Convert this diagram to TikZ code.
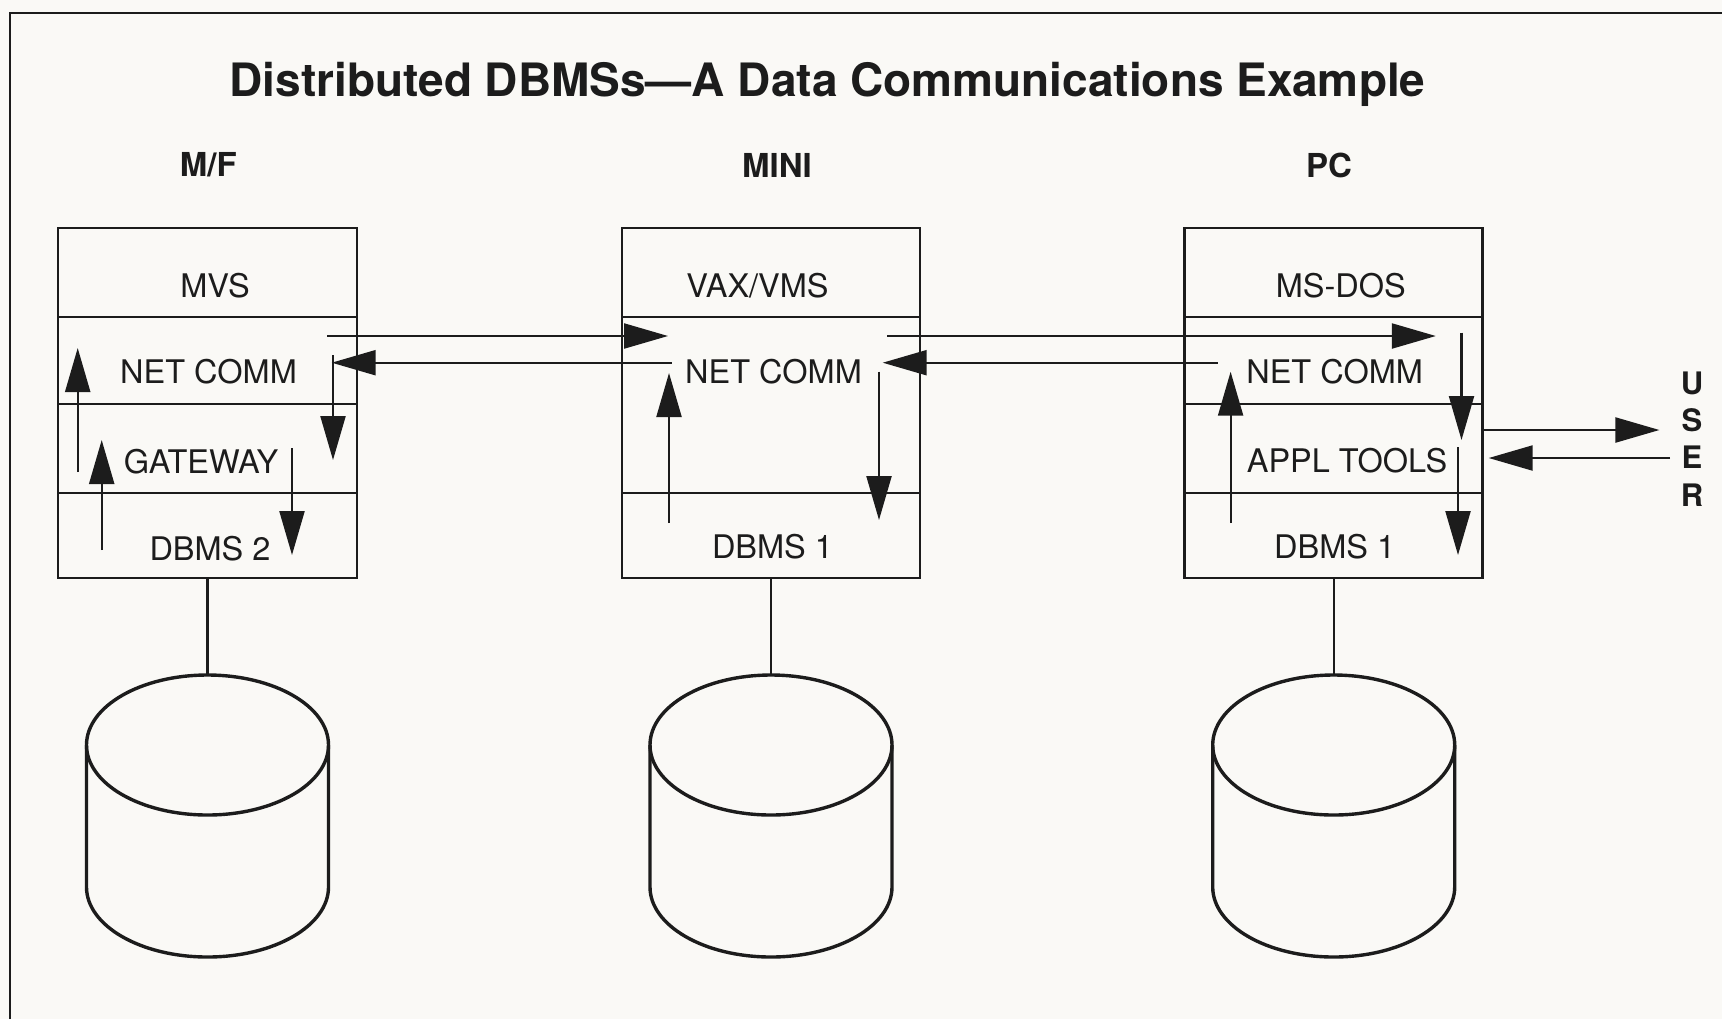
\documentclass[tikz,border=0pt]{standalone}
\usepackage{fontspec}
\setmainfont{TeX Gyre Heros}
\usetikzlibrary{arrows.meta}
\definecolor{paper}{RGB}{250,249,246}
\definecolor{ink}{RGB}{28,28,28}
\begin{document}
\begin{tikzpicture}[x=0.5pt,y=-0.5pt,
  cell/.style={draw=ink, line width=1.4pt, inner sep=0pt, outer sep=0pt, rectangle},
  lbl/.style={font=\fontsize{16.25pt}{19pt}\selectfont, text=ink, inner sep=0pt, anchor=base},
  hdr/.style={font=\bfseries\fontsize{16.5pt}{19pt}\selectfont, text=ink, inner sep=0pt, anchor=base},
  usr/.style={font=\bfseries\fontsize{15.5pt}{19pt}\selectfont, text=ink, inner sep=0pt, anchor=base},
  flow/.style={draw=ink, line width=1.1pt, -{Triangle[length=22pt,width=12.5pt]}},
  link/.style={draw=ink, line width=1.2pt},
  disk/.style={draw=ink, line width=1.7pt}]

\fill[paper] (0,0) rectangle (1722,1019);
\useasboundingbox (0,0) rectangle (1722,1019);
\draw[ink, line width=1.2pt] (10,1019) -- (10,13) -- (1722,13);

% title and headers
\node[hdr, font=\bfseries\fontsize{23pt}{27pt}\selectfont] (title) at (827.5,96) {Distributed DBMSs—A Data Communications Example};
\node[hdr] (hmf) at (208.4,176.7) {M/F};
\node[hdr] (hmini) at (777,177) {MINI};
\node[hdr] (hpc) at (1329,177) {PC};

% M/F stack
\node[cell, minimum width=149.5pt, minimum height=44.5pt] (mfos) at (207.5,272.5) {};
\node[cell, minimum width=149.5pt, minimum height=43.5pt] (mfnet) at (207.5,360.5) {};
\node[cell, minimum width=149.5pt, minimum height=44.5pt] (mfgw) at (207.5,448.5) {};
\node[cell, minimum width=149.5pt, minimum height=42.5pt] (mfdb) at (207.5,535.5) {};
\node[lbl] (tmfos) at (215,297) {MVS};
\node[lbl] (tmfnet) at (208.5,383) {NET COMM};
\node[lbl] (tmfgw) at (201,473) {GATEWAY};
\node[lbl] (tmfdb) at (210,560) {DBMS 2};

% MINI stack
\node[cell, minimum width=149pt, minimum height=44.5pt] (minios) at (771,272.5) {};
\node[cell, minimum width=149pt, minimum height=88pt] (mininet) at (771,405) {};
\node[cell, minimum width=149pt, minimum height=42.5pt] (minidb) at (771,535.5) {};
\node[lbl] (tminios) at (757.5,297) {VAX/VMS};
\node[lbl] (tmininet) at (773.5,383) {NET COMM};
\node[lbl] (tminidb) at (772.5,558) {DBMS 1};

% PC stack
\node[cell, minimum width=149pt, minimum height=44.5pt] (pcos) at (1333.7,272.5) {};
\node[cell, minimum width=149pt, minimum height=43.5pt] (pcnet) at (1333.7,360.5) {};
\node[cell, minimum width=149pt, minimum height=44.5pt] (pcapp) at (1333.7,448.5) {};
\node[cell, minimum width=149pt, minimum height=42.5pt] (pcdb) at (1333.7,535.5) {};
\node[lbl] (tpcos) at (1340.8,297) {MS-DOS};
\node[lbl] (tpcnet) at (1334.6,383) {NET COMM};
\node[lbl] (tpcapp) at (1347,472) {APPL TOOLS};
\node[lbl] (tpcdb) at (1334.6,558) {DBMS 1};

% USER
\node[usr] (u1) at (1692,394.5) {U};
\node[usr] (u2) at (1692,431.5) {S};
\node[usr] (u3) at (1692,468.5) {E};
\node[usr] (u4) at (1692,506.5) {R};

% arrow end points
\coordinate (mfup1s) at (77.7,472);   \coordinate (mfup1e) at (77.7,348);
\coordinate (mfup2s) at (101.7,550);  \coordinate (mfup2e) at (101.7,440);
\coordinate (mfouts) at (327,336);    \coordinate (miniine) at (668,336);
\coordinate (minibacks) at (671.7,362.7); \coordinate (mfbacke) at (331.7,362.7);
\coordinate (mfdn1s) at (333,355);    \coordinate (mfdn1e) at (333,460);
\coordinate (mfdn2s) at (292,448);    \coordinate (mfdn2e) at (292,555);

\coordinate (miniouts) at (887,336);  \coordinate (pcine) at (1435.8,336);
\coordinate (pcbacks) at (1217.5,362.7); \coordinate (minibacke) at (882.7,362.7);
\coordinate (minidns) at (879,371.7); \coordinate (minidne) at (879,520);
\coordinate (miniups) at (669,523);   \coordinate (miniupe) at (669,373);

\coordinate (pcdn1s) at (1461.5,332.7); \coordinate (pcdn1e) at (1461.5,440);
\coordinate (pcdn2s) at (1458,447);   \coordinate (pcdn2e) at (1458,555);
\coordinate (pcups) at (1230.6,523);  \coordinate (pcupe) at (1230.6,371.7);
\coordinate (pcusers) at (1482.7,430); \coordinate (pcusere) at (1659.4,430);
\coordinate (userpcs) at (1670,458);  \coordinate (userpce) at (1488.7,458);

\draw[flow] (mfup1s) -- (mfup1e);
\draw[flow] (mfup2s) -- (mfup2e);
\draw[flow] (mfouts) -- (miniine);
\draw[flow] (minibacks) -- (mfbacke);
\draw[flow] (mfdn1s) -- (mfdn1e);
\draw[flow] (mfdn2s) -- (mfdn2e);

\draw[flow] (miniouts) -- (pcine);
\draw[flow] (pcbacks) -- (minibacke);
\draw[flow] (minidns) -- (minidne);
\draw[flow] (miniups) -- (miniupe);

\draw[flow] (pcdn1s) -- (pcdn1e);
\draw[flow] (pcdn2s) -- (pcdn2e);
\draw[flow] (pcups) -- (pcupe);
\draw[flow] (pcusers) -- (pcusere);
\draw[flow] (userpcs) -- (userpce);

% disks
\foreach \cx/\nm in {207.5/cylmf, 771/cylmini, 1333.7/cylpc}{
  \draw[disk] (\cx,745) ellipse [x radius=60.5pt, y radius=35pt];
  \draw[disk] (\cx-121,745) -- (\cx-121,887)
     arc[start angle=180, end angle=360, x radius=60.5pt, y radius=35pt]
     -- (\cx+121,745);
  \coordinate (\nm) at (\cx,675);
}
\draw[link] (mfdb.south) -- (cylmf);
\draw[link] (minidb.south) -- (cylmini);
\draw[link] (pcdb.south) -- (cylpc);
\end{tikzpicture}
\end{document}
